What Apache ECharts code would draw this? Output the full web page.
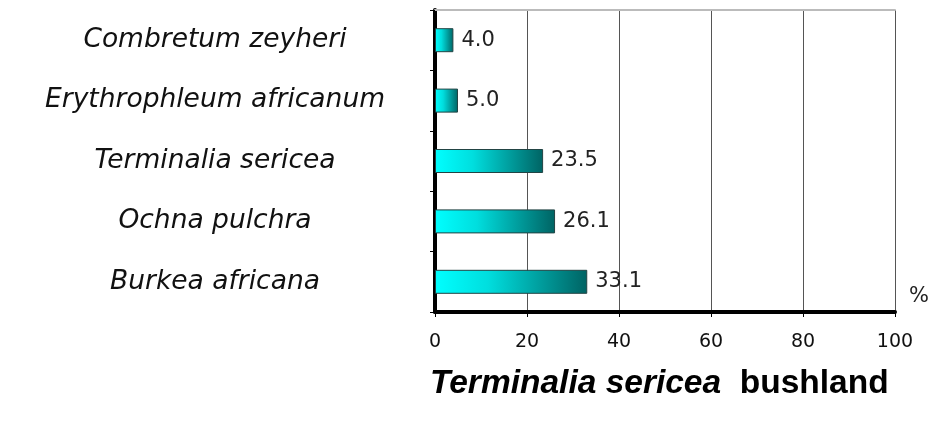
<!DOCTYPE html>
<html><head><meta charset="utf-8">
<script src="https://cdn.jsdelivr.net/npm/echarts@6/dist/echarts.min.js"></script>
<style>html,body{margin:0;padding:0;background:#fff}#c{width:930px;height:427px}</style>
</head><body><div id="c"></div>
<script>
const categories = ['Burkea africana', 'Ochna pulchra', 'Terminalia sericea', 'Erythrophleum africanum', 'Combretum zeyheri'];
const values = [33.1, 26.1, 23.5, 5.0, 4.0];
const xTicks = [0, 20, 40, 60, 80, 100];

const chart = echarts.init(document.getElementById('c'));
chart.setOption({
  animation: false,
  grid: { left: 435, right: 35, top: 10, bottom: 115, containLabel: false },
  xAxis: [{
    type: 'value', min: 0, max: 100, interval: 20,
    axisLine: { show: true, lineStyle: { color: '#000', width: 4 } },
    axisTick: { show: true, length: 5, lineStyle: { color: '#000', width: 1 } },
    axisLabel: { margin: 21, fontSize: 19, color: '#111', fontFamily: 'DejaVu Sans',
      formatter: v => xTicks.includes(v) ? String(v) : '' },
    splitLine: { show: true, lineStyle: { color: '#555', width: 1 } }
  }, {
    type: 'value', position: 'top', min: 0, max: 100,
    axisLine: { show: true, lineStyle: { color: '#bbb', width: 2 } },
    axisTick: { show: false }, axisLabel: { show: false }, splitLine: { show: false }
  }],
  yAxis: {
    type: 'category', data: categories,
    axisLine: { show: true, lineStyle: { color: '#000', width: 4 } },
    axisTick: { show: true, length: 5, lineStyle: { color: '#000', width: 1 } },
    axisLabel: { margin: 220, align: 'center', fontSize: 26.5, fontStyle: 'italic', color: '#111', fontFamily: 'DejaVu Sans' }
  },
  series: [{
    type: 'bar', data: values, barWidth: 24,
    itemStyle: {
      borderColor: '#224444', borderWidth: 1,
      color: new echarts.graphic.LinearGradient(0, 0, 1, 0, [
        { offset: 0, color: '#00ffff' },
        { offset: 0.35, color: '#00dede' },
        { offset: 1, color: '#006363' }
      ])
    },
    label: { show: true, position: 'right', distance: 8, fontSize: 21, color: '#222', fontFamily: 'DejaVu Sans',
      formatter: p => p.value.toFixed(1) }
  }],
  graphic: [
    { type: 'text', left: 909, top: 286, style: { text: '%', fontSize: 21, fill: '#222', fontFamily: 'DejaVu Sans' } },
    { type: 'text', left: 430, top: 367, style: { rich: {
        a: { fontSize: 33.5, fontWeight: 'bold', fontStyle: 'italic', fontFamily: 'Liberation Sans', fill: '#000' },
        b: { fontSize: 33.5, fontWeight: 'bold', fontFamily: 'Liberation Sans', fill: '#000' } },
      text: '{a|Terminalia sericea}{b|  bushland}' } }
  ]
});
</script></body></html>
